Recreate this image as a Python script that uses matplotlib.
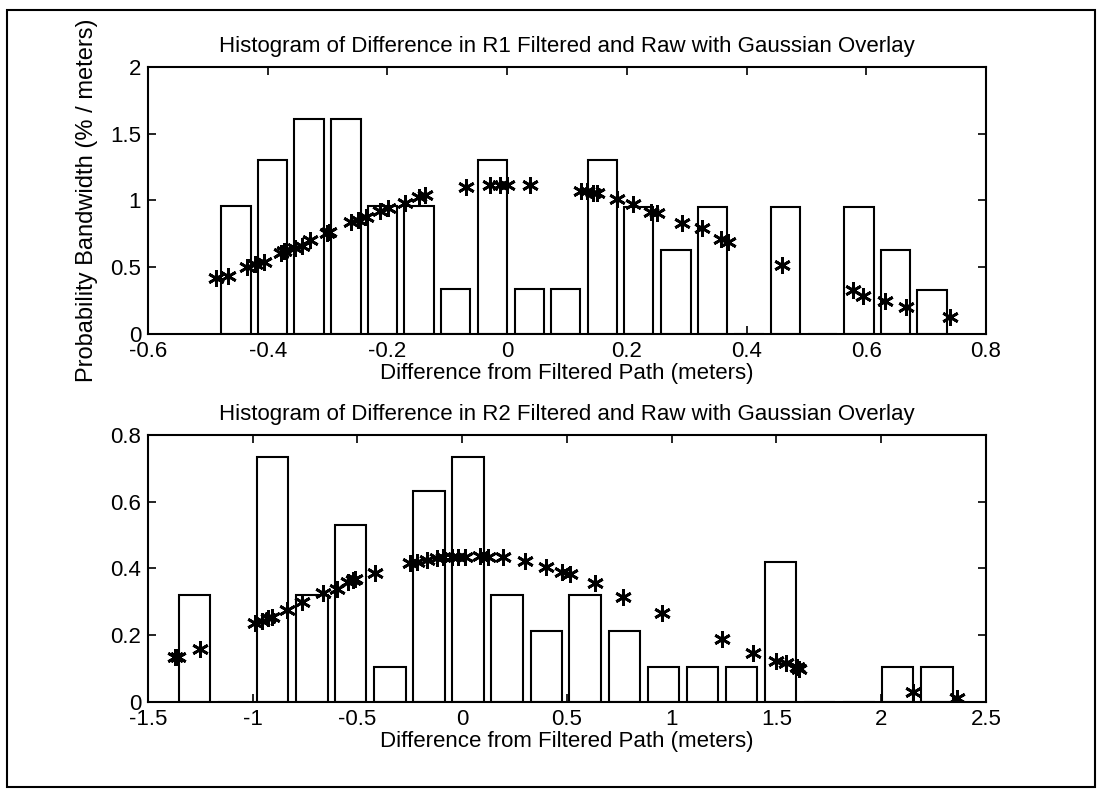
import matplotlib
matplotlib.use("Agg")
import matplotlib.pyplot as plt
from matplotlib.patches import Rectangle

plt.rcParams['font.family'] = ['Liberation Sans', 'DejaVu Sans']

# R1 histogram (bin centres, normalised heights)
r1_centers = [-0.453, -0.392, -0.331, -0.269, -0.208, -0.147, -0.086, -0.024, 0.037, 0.098,
              0.159, 0.220, 0.282, 0.343, 0.404, 0.465, 0.527, 0.588, 0.649, 0.710]
r1_heights = [0.96, 1.30, 1.61, 1.61, 0.96, 0.96, 0.34, 1.30, 0.34, 0.34,
              1.30, 0.95, 0.63, 0.95, 0.0, 0.95, 0.0, 0.95, 0.63, 0.33]
# R1 gaussian overlay
r1_gx = [-0.486, -0.466, -0.434, -0.421, -0.407, -0.377, -0.372, -0.354, -0.343, -0.329,
         -0.301, -0.297, -0.260, -0.249, -0.235, -0.212, -0.199, -0.171, -0.148, -0.137,
         -0.068, -0.029, -0.012, -0.001, 0.038, 0.123, 0.133, 0.144, 0.150, 0.184,
         0.210, 0.241, 0.250, 0.292, 0.325, 0.358, 0.369, 0.459, 0.577, 0.594,
         0.631, 0.667, 0.740]
r1_gy = [0.417, 0.437, 0.500, 0.524, 0.542, 0.609, 0.618, 0.642, 0.661, 0.704,
         0.757, 0.761, 0.841, 0.854, 0.879, 0.924, 0.941, 0.979, 1.024, 1.041,
         1.099, 1.116, 1.116, 1.116, 1.116, 1.071, 1.071, 1.054, 1.054, 1.014,
         0.971, 0.916, 0.909, 0.834, 0.791, 0.712, 0.692, 0.517, 0.330, 0.285,
         0.250, 0.205, 0.125]

# R2 histogram
r2_centers = [-1.278, -1.092, -0.905, -0.718, -0.532, -0.345, -0.159, 0.028, 0.214, 0.401,
              0.587, 0.774, 0.960, 1.147, 1.333, 1.520, 1.706, 1.893, 2.079, 2.266]
r2_heights = [0.32, 0.0, 0.735, 0.32, 0.53, 0.105, 0.632, 0.735, 0.32, 0.213,
              0.32, 0.213, 0.105, 0.105, 0.105, 0.42, 0.0, 0.0, 0.105, 0.105]
# R2 gaussian overlay
r2_gx = [-1.371, -1.355, -1.252, -0.989, -0.957, -0.926, -0.910, -0.838, -0.766, -0.666,
         -0.599, -0.544, -0.520, -0.512, -0.417, -0.249, -0.217, -0.170, -0.122, -0.090,
         -0.050, -0.019, 0.013, 0.085, 0.124, 0.196, 0.300, 0.400, 0.475, 0.514,
         0.634, 0.766, 0.952, 1.238, 1.386, 1.498, 1.545, 1.599, 1.609, 2.153, 2.360]
r2_gy = [0.134, 0.134, 0.159, 0.238, 0.244, 0.251, 0.254, 0.276, 0.301, 0.328,
         0.338, 0.358, 0.366, 0.368, 0.386, 0.417, 0.420, 0.425, 0.430, 0.433,
         0.435, 0.435, 0.435, 0.437, 0.434, 0.434, 0.422, 0.405, 0.390, 0.382,
         0.357, 0.315, 0.268, 0.188, 0.148, 0.124, 0.116, 0.106, 0.098, 0.031, 0.013]

fs = 16
star = (6, 2, 0)

fig = plt.figure(figsize=(10.97, 7.89), dpi=100)
fig.patches.append(Rectangle((7 / 1097, 2 / 789), 1088 / 1097, 777 / 789,
                             transform=fig.transFigure, fill=False,
                             edgecolor='black', linewidth=1.5))

ax1 = fig.add_axes([0.1349, 0.5767, 0.7639, 0.3384])
ax2 = fig.add_axes([0.1349, 0.1103, 0.7639, 0.3384])

panels = [
    (ax1, r1_centers, r1_heights, 0.049, r1_gx, r1_gy, 'R1', (-0.6, 0.8), (0, 2),
     [-0.6, -0.4, -0.2, 0, 0.2, 0.4, 0.6, 0.8], ['-0.6', '-0.4', '-0.2', '0', '0.2', '0.4', '0.6', '0.8'],
     [0, 0.5, 1, 1.5, 2], ['0', '0.5', '1', '1.5', '2']),
    (ax2, r2_centers, r2_heights, 0.15, r2_gx, r2_gy, 'R2', (-1.5, 2.5), (0, 0.8),
     [-1.5, -1, -0.5, 0, 0.5, 1, 1.5, 2, 2.5], ['-1.5', '-1', '-0.5', '0', '0.5', '1', '1.5', '2', '2.5'],
     [0, 0.2, 0.4, 0.6, 0.8], ['0', '0.2', '0.4', '0.6', '0.8']),
]

for ax, cx, h, w, gx, gy, name, xl, yl, xt, xtl, yt, ytl in panels:
    ax.bar(cx, h, width=w, color='white', edgecolor='black', linewidth=1.5, zorder=2)
    ax.plot(gx, gy, linestyle='none', marker=star, markersize=12,
            markeredgewidth=2.0, color='black', zorder=3)
    ax.set_xlim(*xl)
    ax.set_ylim(*yl)
    ax.set_xticks(xt)
    ax.set_xticklabels(xtl)
    ax.set_yticks(yt)
    ax.set_yticklabels(ytl)
    ax.tick_params(direction='in', top=True, right=True, length=6, width=1.2,
                   labelsize=fs, pad=5)
    for s in ax.spines.values():
        s.set_linewidth(1.5)
    ax.set_title('Histogram of Difference in ' + name + ' Filtered and Raw with Gaussian Overlay',
                 fontsize=fs, pad=11)
    ax.set_xlabel('Difference from Filtered Path (meters)', fontsize=fs, labelpad=1)

ax1.set_ylabel('Probability Bandwidth (% / meters)', fontsize=17)
ax1.yaxis.set_label_coords(-0.06, 0.5)

fig.savefig('out.png', dpi=100)
